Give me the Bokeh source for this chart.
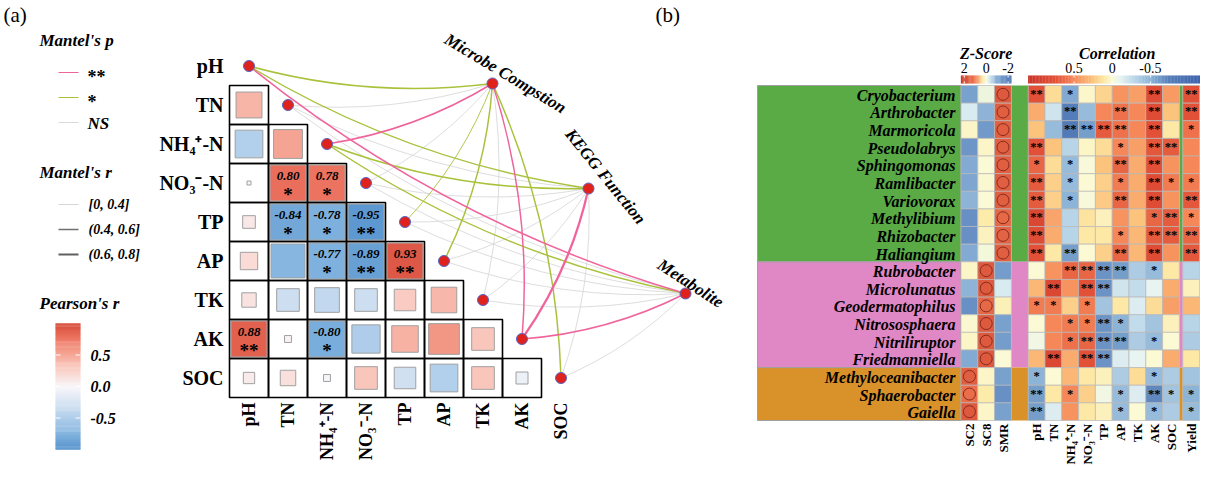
import numpy as np
from bokeh.plotting import figure
from bokeh.models import Range1d
from bokeh.core.properties import value
from bokeh.embed import file_html
from bokeh.resources import INLINE

FONT = value("Liberation Serif")

# ======================= DATA : panel (a) =======================
env_vars = ["pH", "TN", "NH₄⁺-N", "NO₃⁻-N", "TP", "AP", "TK", "AK", "SOC"]

# lower triangle, row i (TN..SOC) against columns pH..(i-1)
pearson_r = [
    [0.42],
    [-0.48, 0.52],
    [0.01, 0.80, 0.78],
    [0.10, -0.84, -0.78, -0.95],
    [0.19, -0.72, -0.77, -0.89, 0.93],
    [0.13, -0.32, -0.38, -0.32, 0.29, 0.41],
    [0.88, 0.03, -0.80, -0.50, 0.44, 0.59, 0.32],
    [0.08, 0.15, -0.03, 0.32, -0.29, -0.48, 0.32, -0.09],
]
pearson_sig = [
    [""],
    ["", ""],
    ["", "*", "*"],
    ["", "*", "*", "**"],
    ["", "", "*", "**", "**"],
    ["", "", "", "", "", ""],
    ["**", "", "*", "", "", "", ""],
    ["", "", "", "", "", "", "", ""],
]

mantel_targets = ["Microbe Compstion", "KEGG Function", "Metabolite"]
mantel_p_microbe = ["*", "ns", "**", "ns", "*", "*", "ns", "**", "*"]
mantel_p_kegg = ["*", "ns", "*", "ns", "ns", "ns", "ns", "**", "ns"]
mantel_p_metab = ["**", "ns", "*", "ns", "ns", "ns", "ns", "**", "ns"]
mantel_r_microbe = [0.45, 0.25, 0.55, 0.20, 0.35, 0.45, 0.20, 0.50, 0.45]
mantel_r_kegg = [0.45, 0.20, 0.50, 0.20, 0.20, 0.25, 0.20, 0.70, 0.20]
mantel_r_metab = [0.50, 0.20, 0.45, 0.20, 0.20, 0.20, 0.20, 0.55, 0.20]

p_classes = ["**", "*", "NS"]
r_classes = ["[0, 0.4]", "(0.4, 0.6]", "(0.6, 0.8]"]
pearson_ticks = [0.5, 0.0, -0.5]

# ======================= DATA : panel (b) =======================
genera = ["Cryobacterium", "Arthrobacter", "Marmoricola", "Pseudolabrys", "Sphingomonas",
          "Ramlibacter", "Variovorax", "Methylibium", "Rhizobacter", "Haliangium",
          "Rubrobacter", "Microlunatus", "Geodermatophilus", "Nitrososphaera",
          "Nitriliruptor", "Friedmanniella",
          "Methyloceanibacter", "Sphaerobacter", "Gaiella"]
genus_group = ["g1"] * 10 + ["g2"] * 6 + ["g3"] * 3
group_colors = {"g1": "#5aab46", "g2": "#e088c6", "g3": "#d9912a"}

zscore_cols = ["SC2", "SC8", "SMR"]
z_SC2 = [-1.2, -0.3, 0.1, -1.5, -1.0, -1.1, -0.9, -1.6, -1.6, -1.0,
         0.1, -0.9, -1.6, 0.05, 0.1, -1.0, 1.5, 1.2, 1.6]
z_SC8 = [-0.1, -0.9, -1.4, 0.1, 0.0, 0.05, 0.0, 0.3, 0.15, -0.05,
         1.6, 1.6, 1.3, 1.6, 1.6, 1.6, 0.1, 0.3, 0.1]
z_SMR = [1.6, 1.5, 1.5, 1.5, 1.5, 1.5, 1.5, 1.3, 1.4, 1.5,
         -1.3, -0.3, 0.2, -1.2, -1.3, 0.0, -1.2, -1.6, -1.2]

corr_cols = ["pH", "TN", "NH₄⁺-N", "NO₃⁻-N", "TP", "AP", "TK", "AK", "SOC"]
r_pH = [0.75, 0.35, 0.25, 0.75, 0.65, 0.7, 0.7, 0.85, 0.8, 0.75, 0.0, 0.3, 0.55, 0.0, -0.05, 0.3, -0.5, -0.6, -0.6]
r_TN = [0.15, -0.2, -0.45, 0.25, 0.15, 0.2, 0.2, 0.38, 0.35, 0.1, 0.45, 0.85, 0.55, 0.5, 0.5, 0.85, 0.0, 0.1, -0.15]
r_NH4 = [-0.55, -0.75, -0.8, -0.3, -0.45, -0.45, -0.5, -0.3, -0.3, -0.6, 0.65, 0.45, 0.2, 0.55, 0.6, 0.35, 0.3, 0.5, 0.45]
r_NO3 = [0.02, -0.45, -0.6, 0.03, -0.02, 0.0, -0.02, 0.12, 0.1, 0.0, 0.65, 0.75, 0.55, 0.55, 0.65, 0.75, 0.1, 0.2, 0.1]
r_TP = [0.18, 0.5, 0.7, 0.15, 0.25, 0.2, 0.22, 0.05, 0.1, 0.2, -0.65, -0.65, -0.4, -0.65, -0.65, -0.65, 0.05, -0.05, 0.05]
r_AP = [0.45, 0.6, 0.6, 0.5, 0.65, 0.55, 0.65, 0.45, 0.5, 0.65, -0.6, -0.2, 0.1, -0.5, -0.6, -0.15, -0.35, -0.45, -0.45]
r_TK = [0.4, 0.5, 0.5, 0.4, 0.35, 0.35, 0.35, 0.25, 0.3, 0.3, -0.35, -0.25, -0.15, -0.25, -0.35, -0.1, 0.15, -0.15, 0.0]
r_AK = [0.8, 0.8, 0.75, 0.72, 0.75, 0.8, 0.8, 0.65, 0.7, 0.8, -0.45, -0.1, 0.15, -0.4, -0.45, 0.0, -0.45, -0.7, -0.45]
r_SOC = [0.42, 0.25, 0.1, 0.7, 0.45, 0.55, 0.45, 0.7, 0.7, 0.45, 0.1, 0.35, 0.4, 0.05, 0.0, 0.35, -0.35, -0.4, -0.35]
r_Yield = [0.75, 0.75, 0.6, 0.5, 0.5, 0.55, 0.72, 0.5, 0.65, 0.72, -0.3, 0.05, 0.3, -0.3, -0.35, 0.1, -0.4, -0.5, -0.45]

s_pH = ["**", "", "", "**", "*", "**", "**", "**", "**", "**", "", "", "*", "", "", "", "*", "**", "**"]
s_TN = ["", "", "", "", "", "", "", "", "", "", "", "**", "*", "", "", "**", "", "", ""]
s_NH4 = ["*", "**", "**", "", "*", "*", "*", "", "", "**", "**", "", "", "*", "*", "", "", "*", ""]
s_NO3 = ["", "", "**", "", "", "", "", "", "", "", "**", "**", "*", "*", "**", "**", "", "", ""]
s_TP = ["", "", "**", "", "", "", "", "", "", "", "**", "**", "", "**", "**", "**", "", "", ""]
s_AP = ["", "**", "**", "*", "**", "*", "**", "", "*", "**", "**", "", "", "*", "**", "", "", "*", "*"]
s_TK = [""] * 19
s_AK = ["**", "**", "**", "**", "**", "**", "**", "*", "**", "**", "*", "", "", "", "*", "", "*", "**", "*"]
s_SOC = ["", "", "", "**", "", "*", "", "**", "**", "", "", "", "", "", "", "", "", "*", ""]
s_Yield = ["**", "**", "*", "", "", "*", "**", "*", "**", "**", "", "", "", "", "", "", "", "*", "*"]

z_ticks = [2, 0, -2]
corr_ticks = [0.5, 0, -0.5]

# ======================= colour scales =======================
def lerp_hex(v, stops, cols):
    c = np.array(cols, dtype=float)
    rgb = [int(round(np.interp(v, stops, c[:, k]))) for k in range(3)]
    return "#%02x%02x%02x" % tuple(rgb)

PEAR_STOPS = [-1, -0.75, -0.5, -0.25, 0, 0.25, 0.5, 0.75, 1]
PEAR_COLS = [(85, 145, 205), (130, 180, 222), (175, 205, 235), (215, 228, 242), (248, 246, 250),
             (250, 210, 202), (246, 168, 152), (238, 120, 100), (215, 75, 58)]
def pear_col(v):
    return lerp_hex(v, PEAR_STOPS, PEAR_COLS)

CORR_STOPS = [-1.2, -0.75, -0.5, -0.25, -0.1, 0, 0.1, 0.25, 0.5, 0.75, 1.2]
CORR_COLS = [(60, 95, 170), (85, 125, 185), (140, 180, 215), (195, 220, 235), (232, 244, 242),
             (252, 250, 212), (253, 232, 165), (252, 195, 125), (246, 135, 88), (225, 80, 55), (195, 45, 38)]
def corr_col(v):
    return lerp_hex(v, CORR_STOPS, CORR_COLS)

Z_STOPS = [-2.4, -1, -0.3, 0, 0.3, 1, 2.4]
Z_COLS = [(70, 110, 178), (130, 170, 210), (215, 235, 240), (250, 250, 215), (253, 235, 170),
          (240, 120, 80), (195, 50, 38)]
def z_col(v):
    return lerp_hex(v, Z_STOPS, Z_COLS)

P_COLORS = {"**": "#f0649c", "*": "#a9c23c", "ns": "#d9d9d9"}
def r_width(r):
    return 0.9 if r <= 0.4 else (1.5 if r <= 0.6 else 2.3)

# ======================= figure =======================
p = figure(width=1200, height=468, x_range=Range1d(8, 1208), y_range=Range1d(476, 8),
           output_backend="svg", toolbar_location=None, min_border=0,
           x_axis_location=None, y_axis_location=None)
p.xgrid.visible = False
p.ygrid.visible = False
p.outline_line_color = None


def txt(x, y, s, size, style="normal", align="left", baseline="middle", angle=0.0, color="black"):
    p.text(x=x, y=y, text=s, text_font=FONT, text_font_size=value(f"{size}px"),
           text_font_style=style, text_align=align, text_baseline=baseline,
           angle=angle, text_color=color)

# ---------------- panel (a) layout ----------------
AX0, AY0, C = 237.0, 54.0, 39.0
n_env = len(env_vars)
node_x = [AX0 + (i + 0.5) * C for i in range(n_env)]
node_y = [AY0 + (i + 0.5) * C for i in range(n_env)]

target_xy = [(500.0, 91.0), (596.0, 196.0), (693.0, 301.0)]
target_label = [(513.0, 81.0, -31.0), (613.0, 184.0, -51.0), (698.0, 291.0, -33.0)]
mantel_p_all = [mantel_p_microbe, mantel_p_kegg, mantel_p_metab]
mantel_r_all = [mantel_r_microbe, mantel_r_kegg, mantel_r_metab]

# mantel curves (grey first, then coloured)
for level in ["ns", "*", "**"]:
    for t, (tx, ty) in enumerate(target_xy):
        for i in range(n_env):
            if mantel_p_all[t][i] != level:
                continue
            x0, y0 = node_x[i], node_y[i]
            dx, dy = tx - x0, ty - y0
            L = np.hypot(dx, dy)
            px, py = -dy / L, dx / L
            cx = (x0 + tx) / 2 + 0.1 * L * px
            cy = (y0 + ty) / 2 + 0.1 * L * py
            p.quadratic(x0=[x0], y0=[y0], x1=[tx], y1=[ty], cx=[cx], cy=[cy],
                        line_color=P_COLORS[level],
                        line_width=r_width(mantel_r_all[t][i]) if level != "ns" else 0.9)

# matrix cells
cell_x, cell_y, fill_x, fill_y, fill_s, fill_c = [], [], [], [], [], []
sig_x, sig_y, sig_c, sig_r, sig_s = [], [], [], [], []
for i in range(1, n_env):
    for j in range(i):
        cxv = AX0 + (j + 0.5) * C
        cyv = AY0 + (i + 0.5) * C
        cell_x.append(cxv); cell_y.append(cyv)
        r = pearson_r[i - 1][j]
        s = pearson_sig[i - 1][j]
        if s:
            sig_x.append(cxv); sig_y.append(cyv); sig_c.append(pear_col(r))
            sig_r.append(f"{r:.2f}"); sig_s.append(s)
        else:
            fill_x.append(cxv); fill_y.append(cyv)
            fill_s.append(min(C - 4, 40 * np.sqrt(abs(r))))
            fill_c.append(pear_col(r))

p.rect(x=sig_x, y=sig_y, width=C - 3, height=C - 3, fill_color=sig_c,
       line_color="#a8a8a8", line_width=1)
p.rect(x=fill_x, y=fill_y, width=fill_s, height=fill_s, fill_color=fill_c,
       line_color="#a0a0a0", line_width=1)
p.rect(x=cell_x, y=cell_y, width=C, height=C, fill_color=None,
       line_color="black", line_width=1.6)
txt(sig_x, [y - 7 for y in sig_y], sig_r, 13, "bold italic", "center")
txt(sig_x, [y + 11 for y in sig_y], sig_s, 19, "bold", "center")

# env nodes & target nodes
p.scatter(x=node_x, y=node_y, size=11, fill_color="#e0221c", line_color="#5565c8", line_width=1)
p.scatter(x=[xy[0] for xy in target_xy], y=[xy[1] for xy in target_xy], size=11,
          fill_color="#e0221c", line_color="#5565c8", line_width=1)

# env labels
txt([AX0 - 6] * n_env, node_y, env_vars, 20, "bold", "right")
txt(node_x, [AY0 + n_env * C + 5] * n_env, env_vars, 18, "bold", "right", "middle", np.pi / 2)

# target labels
for k, (lx, ly, ang) in enumerate(target_label):
    txt([lx], [ly], [mantel_targets[k]], 17, "bold italic", "center", "middle", np.deg2rad(ang))

# panel tag
txt([11], [22], ["(a)"], 21, "normal", "left")

# legends
LX = 47
txt([LX], [48], ["Mantel's p"], 17, "bold italic")
leg_p_y = [80, 105, 130]
p.segment(x0=[66] * 3, y0=leg_p_y, x1=[86] * 3, y1=leg_p_y,
          line_color=[P_COLORS["**"], P_COLORS["*"], P_COLORS["ns"]], line_width=1.2)
txt([95, 95], [leg_p_y[0] + 4, leg_p_y[1] + 4], p_classes[:2], 18, "bold")
txt([95], [leg_p_y[2] + 1], p_classes[2:], 17, "bold italic")
txt([LX], [180], ["Mantel's r"], 17, "bold italic")
leg_r_y = [212, 237, 262]
p.segment(x0=[66] * 3, y0=leg_r_y, x1=[86] * 3, y1=leg_r_y,
          line_color=["#cccccc", "#707070", "#606060"], line_width=[0.8, 1.3, 1.8])
txt([96] * 3, leg_r_y, r_classes, 14, "bold italic")
txt([LX], [311], ["Pearson's r"], 17, "bold italic")

# pearson colour bar
CB_TOP, CB_ZERO = 331.0, 394.0
nb = 120
vals = np.linspace(-1, 1, nb + 1)
mids = (vals[:-1] + vals[1:]) / 2
p.rect(x=[75.5] * nb, y=[CB_ZERO - 63 * v for v in mids], width=25, height=63 * 2 / nb + 0.4,
       fill_color=[pear_col(v) for v in mids], line_color=None)
ty = [CB_ZERO - 63 * v for v in pearson_ticks]
p.segment(x0=[63] * 3, y0=ty, x1=[68] * 3, y1=ty, line_color="white", line_width=1)
p.segment(x0=[83] * 3, y0=ty, x1=[88] * 3, y1=ty, line_color="white", line_width=1)
txt([98] * 3, ty, [f"{v:.1f}" for v in pearson_ticks], 16, "bold italic")

# ---------------- panel (b) ----------------
BX0, BW, BY0, BH = 968.5, 16.8, 93.0, 335.0 / 19
THIN = 3.4
LBL_X0 = 765.0
n_g = len(genera)
row_y = [BY0 + (i + 0.5) * BH for i in range(n_g)]

txt([663], [22], ["(b)"], 21, "normal", "left")

# group label band
groups_order = ["g1", "g2", "g3"]
for g in groups_order:
    idx = [i for i, gg in enumerate(genus_group) if gg == g]
    top = BY0 + idx[0] * BH
    bot = BY0 + (idx[-1] + 1) * BH
    p.rect(x=[(LBL_X0 + BX0) / 2], y=[(top + bot) / 2], width=BX0 - LBL_X0, height=bot - top,
           fill_color=group_colors[g], line_color="#a0a0a0", line_width=1)
    p.rect(x=[BX0 + 3.5 * BW], y=[(top + bot) / 2], width=BW, height=bot - top,
           fill_color=group_colors[g], line_color=None)
    p.rect(x=[BX0 + 13 * BW + THIN / 2], y=[(top + bot) / 2], width=THIN, height=bot - top,
           fill_color=group_colors[g], line_color=None)

txt([963] * n_g, [y + 1 for y in row_y], genera, 16, "bold italic", "right")

# z-score cells
z_all = [z_SC2, z_SC8, z_SMR]
zx, zy, zc = [], [], []
for k in range(3):
    for i in range(n_g):
        zx.append(BX0 + (k + 0.5) * BW); zy.append(row_y[i]); zc.append(z_col(z_all[k][i]))
p.rect(x=zx, y=zy, width=BW, height=BH, fill_color=zc, line_color="#b8b8b8", line_width=0.7)
circ_x = []
for i in range(n_g):
    vals_i = [z_all[k][i] for k in range(3)]
    circ_x.append(BX0 + (int(np.argmax(vals_i)) + 0.5) * BW)
p.scatter(x=circ_x, y=row_y, size=12, fill_color=None, line_color="#8a2a1e", line_width=1)

# correlation cells
r_all = [r_pH, r_TN, r_NH4, r_NO3, r_TP, r_AP, r_TK, r_AK, r_SOC, r_Yield]
s_all = [s_pH, s_TN, s_NH4, s_NO3, s_TP, s_AP, s_TK, s_AK, s_SOC, s_Yield]
col_centers = [BX0 + (4 + k + 0.5) * BW for k in range(9)] + [BX0 + 13 * BW + THIN + 0.5 * BW]
cx_, cy_, cc_, st_x, st_y, st_t = [], [], [], [], [], []
for k in range(10):
    for i in range(n_g):
        cx_.append(col_centers[k]); cy_.append(row_y[i]); cc_.append(corr_col(r_all[k][i]))
        if s_all[k][i]:
            st_x.append(col_centers[k]); st_y.append(row_y[i]); st_t.append(s_all[k][i])
p.rect(x=cx_, y=cy_, width=BW, height=BH, fill_color=cc_, line_color="#b8b8b8", line_width=0.7)
txt(st_x, [y - 0.5 for y in st_y], st_t, 12.5, "bold", "center")

# bottom labels
bottom_labels = zscore_cols + corr_cols + ["Yield"]
bottom_x = [BX0 + (k + 0.5) * BW for k in range(3)] + col_centers
txt(bottom_x, [BY0 + n_g * BH + 3] * len(bottom_x), bottom_labels, 13, "bold", "right",
    "middle", np.pi / 2)

# colour bars (b)
ZC = BX0 + 1.5 * BW
ZS = BW * 3 / 4.6
zv = np.linspace(2.3, -2.3, 60)
zm = (zv[:-1] + zv[1:]) / 2
p.rect(x=[ZC - ZS * v for v in zm], y=[87] * len(zm), width=ZS * 4.6 / 59 + 0.3, height=8,
       fill_color=[z_col(v) for v in zm], line_color=None)
zt = [ZC - ZS * v for v in z_ticks]
p.segment(x0=zt, y0=[83] * 3, x1=zt, y1=[85] * 3, line_color="white", line_width=1)
p.segment(x0=zt, y0=[89] * 3, x1=zt, y1=[91] * 3, line_color="white", line_width=1)
txt(zt, [75] * 3, [str(v) for v in z_ticks], 14, "normal", "center")
txt([ZC], [61], ["Z-Score"], 16, "bold italic", "center")

RC = BX0 + 9 * BW
RS = BW * 80 / 17.6
rlo = (RC - (BX0 + 4 * BW)) / RS
rhi = (1208 - RC) / RS
rv = np.linspace(rlo, -rhi, 121)
rm = (rv[:-1] + rv[1:]) / 2
p.rect(x=[RC - RS * v for v in rm], y=[87] * len(rm), width=RS * (rlo + rhi) / 120 + 0.3, height=8,
       fill_color=[corr_col(v) for v in rm], line_color=None)
rt = [RC - RS * v for v in corr_ticks]
p.segment(x0=rt, y0=[83] * 3, x1=rt, y1=[85] * 3, line_color="white", line_width=1)
p.segment(x0=rt, y0=[89] * 3, x1=rt, y1=[91] * 3, line_color="white", line_width=1)
txt(rt, [75] * 3, [("%g" % v) for v in corr_ticks], 14, "normal", "center")
txt([RC + 5], [61], ["Correlation"], 16, "bold italic", "center")

open("out.html", "w").write(file_html(p, INLINE))
